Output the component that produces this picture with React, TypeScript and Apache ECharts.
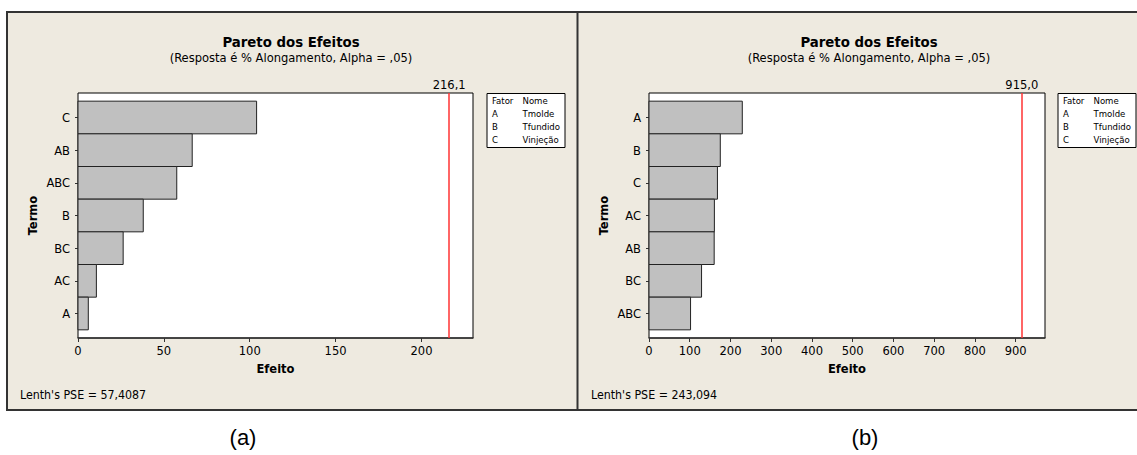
import React, { useEffect, useRef } from "react";
import * as echarts from "echarts";

const TERMS_A = ["C", "AB", "ABC", "B", "BC", "AC", "A"];
const EFFECTS_A = [104, 66.5, 57.5, 38, 26.3, 10.7, 6];
const LIMIT_A = 216.1;
const PSE_A = "57,4087";
const X_MAX_A = 230;
const X_STEP_A = 50;

const TERMS_B = ["A", "B", "C", "AC", "AB", "BC", "ABC"];
const EFFECTS_B = [229, 175, 168, 160.5, 160, 129, 102];
const LIMIT_B = 915.0;
const PSE_B = "243,094";
const X_MAX_B = 972;
const X_STEP_B = 100;

const FACTORS = ["A", "B", "C"];
const FACTOR_NAMES = ["Tmolde", "Tfundido", "Vinjeção"];

const TITLE = "Pareto dos Efeitos";
const SUBTITLE = "(Resposta é % Alongamento, Alpha = ,05)";
const PANEL_LABELS = ["(a)", "(b)"];

const FONT = '"DejaVu Sans Condensed", "Liberation Sans", sans-serif';
const BG = "#eeeae0";
const W = 1137;

function txt(x: number, y: number, text: string, size: number, opts: any = {}) {
  const align = opts.align || "left";
  return {
    type: "text",
    x,
    y,
    z: 50,
    silent: true,
    style: {
      text,
      font: `${opts.bold ? "bold " : ""}${size}px ${opts.family || FONT}`,
      fill: opts.fill || "#000",
      align,
      textAlign: align,
      verticalAlign: "middle",
      textVerticalAlign: "middle",
    },
  };
}

export default function App() {
  const ref = useRef<HTMLDivElement>(null);
  useEffect(() => {
    if (!ref.current) return;
    const chart = echarts.init(ref.current, null, { renderer: "svg" });

    const panels = [
      { terms: TERMS_A, effects: EFFECTS_A, limit: LIMIT_A, pse: PSE_A, max: X_MAX_A, step: X_STEP_A, left: 78, right: 473, center: 291, legendX: 487 },
      { terms: TERMS_B, effects: EFFECTS_B, limit: LIMIT_B, pse: PSE_B, max: X_MAX_B, step: X_STEP_B, left: 649, right: 1045, center: 869, legendX: 1058 },
    ];
    const top = 93;
    const height = 245;

    const grids: any[] = [];
    const xAxes: any[] = [];
    const yAxes: any[] = [];
    const series: any[] = [];
    const graphics: any[] = [
      { type: "rect", z: -10, silent: true, shape: { x: 7, y: 12, width: 1160, height: 398 }, style: { fill: BG, stroke: "#333", lineWidth: 2 } },
      { type: "line", z: -9, silent: true, shape: { x1: 577.5, y1: 12, x2: 577.5, y2: 410 }, style: { stroke: "#333", lineWidth: 2 } },
    ];

    panels.forEach((p, i) => {
      grids.push({
        left: p.left,
        width: p.right - p.left,
        top,
        height,
        show: true,
        backgroundColor: "#fff",
        borderColor: "#000",
        borderWidth: 1,
      });
      xAxes.push({
        gridIndex: i,
        type: "value",
        min: 0,
        max: p.max,
        interval: p.step,
        splitLine: { show: false },
        axisLine: { show: true, onZero: false, lineStyle: { color: "#333", width: 1.5 } },
        axisTick: { show: true, inside: false, length: 4, lineStyle: { color: "#333" } },
        axisLabel: { fontFamily: FONT, fontSize: 12.8, color: "#000", margin: 6, showMaxLabel: false, formatter: (v: number) => String(v) },
        name: "Efeito",
        nameLocation: "middle",
        nameGap: 24,
        nameTextStyle: { fontFamily: FONT, fontSize: 12.8, fontWeight: "bold", color: "#000" },
      });
      const idx = p.terms.map((_, k) => k);
      yAxes.push({
        gridIndex: i,
        type: "value",
        inverse: true,
        min: -0.75,
        max: p.terms.length - 0.25,
        splitLine: { show: false },
        axisLine: { show: false },
        axisTick: { show: true, inside: false, length: 3, customValues: idx, lineStyle: { color: "#333" } },
        axisLabel: {
          customValues: idx,
          fontFamily: FONT,
          fontSize: 12.8,
          color: "#000",
          margin: 8,
          formatter: (v: number) => p.terms[Math.round(v)] ?? "",
        },
        name: "Termo",
        nameLocation: "middle",
        nameGap: 39,
        nameRotate: 90,
        nameTextStyle: { fontFamily: FONT, fontSize: 12.8, fontWeight: "bold", color: "#000" },
      });
      series.push({
        type: "custom",
        xAxisIndex: i,
        yAxisIndex: i,
        data: p.effects.map((v, k) => [v, k]),
        encode: { x: 0, y: 1 },
        renderItem: (params: any, api: any) => {
          const v = api.value(0);
          const k = api.value(1);
          const a = api.coord([0, k - 0.5]);
          const b = api.coord([v, k + 0.5]);
          return {
            type: "rect",
            shape: { x: a[0], y: Math.min(a[1], b[1]), width: b[0] - a[0], height: Math.abs(b[1] - a[1]) },
            style: { fill: "#c0c0c0", stroke: "#222", lineWidth: 1 },
          };
        },
      });
      series.push({
        type: "line",
        xAxisIndex: i,
        yAxisIndex: i,
        data: [],
        markLine: {
          silent: true,
          symbol: "none",
          lineStyle: { color: "#ff3333", width: 1.5, type: "solid" },
          label: {
            show: true,
            position: "end",
            distance: 2,
            fontFamily: FONT,
            fontSize: 12.8,
            color: "#000",
            formatter: p.limit.toFixed(1).replace(".", ","),
          },
          data: [[{ coord: [p.limit, p.terms.length - 0.25] }, { coord: [p.limit, -0.75] }]],
        },
      });

      graphics.push(txt(p.center, 41, TITLE, 14.8, { bold: true, align: "center" }));
      graphics.push(txt(p.center, 57, SUBTITLE, 12.8, { align: "center" }));
      graphics.push(txt(i === 0 ? 20 : 591, 395, `Lenth's PSE = ${p.pse}`, 12.3));
      graphics.push({
        type: "rect",
        z: 40,
        silent: true,
        shape: { x: p.legendX, y: 93.5, width: 78, height: 54 },
        style: { fill: "#fff", stroke: "#000", lineWidth: 1 },
      });
      graphics.push(txt(p.legendX + 5, 100.7, "Fator", 9.5));
      graphics.push(txt(p.legendX + 35.5, 100.7, "Nome", 9.5));
      FACTORS.forEach((f, k) => {
        graphics.push(txt(p.legendX + 5, 113.7 + 13 * k, f, 9.5));
        graphics.push(txt(p.legendX + 35.5, 113.7 + 13 * k, FACTOR_NAMES[k], 9.5));
      });
      graphics.push(txt(i === 0 ? 243 : 865, 437, PANEL_LABELS[i], 22, { align: "center", family: '"Liberation Sans", Arial, sans-serif' }));
    });

    chart.setOption({
      animation: false,
      backgroundColor: "#fff",
      grid: grids,
      xAxis: xAxes,
      yAxis: yAxes,
      series,
      graphic: { elements: graphics },
    });
    return () => chart.dispose();
  }, []);
  return <div ref={ref} style={{ position: "fixed", left: 0, top: 0, width: W, height: 455 }} />;
}
